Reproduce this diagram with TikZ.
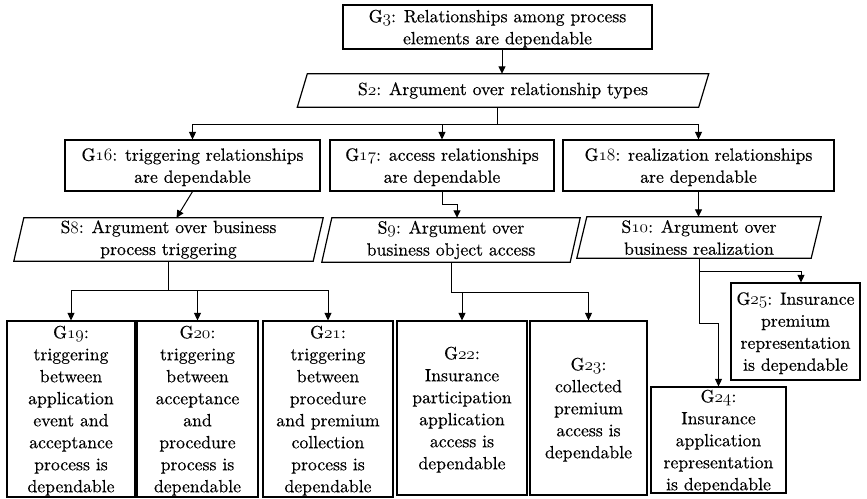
\documentclass[tikz,border=0pt]{standalone}
\usepackage{fontspec}
\usetikzlibrary{arrows.meta}
% text face (10pt optical design, slightly emboldened) and old-style identifiers
\newfontfamily\diagfam{lmroman10-regular.otf}[FakeBold=0.4]
\newcommand\diagfont{\diagfam\fontsize{17.7}{22}\selectfont}
\newcommand\os[1]{{\usefont{OML}{cmm}{m}{it}#1}}
% parallelogram outline around a strategy node
\newcommand\slantbox[1]{\draw[boxline] ([xshift=5pt]#1.north west) -- ([xshift=5pt]#1.north east) -- ([xshift=-5pt]#1.south east) -- ([xshift=-5pt]#1.south west) -- cycle;}
\begin{document}
\begin{tikzpicture}[x=1pt,y=-1pt,
  boxline/.style={line width=1.2pt},
  goal/.style={draw, boxline, inner sep=0pt, align=center, text depth=0pt, font=\diagfont},
  strat/.style={inner sep=0pt, align=center, font=\diagfont},
  link/.style={line width=1pt},
  arr/.style={link, -{Triangle[length=7.5pt,width=7pt]}}]
\useasboundingbox (0,0) rectangle (867,498);

% goals
\node[goal, minimum width=309pt, minimum height=44pt] (G3) at (497.5,27)
  {G\os{3}: Relationships among process\\elements are dependable};
\node[goal, minimum width=255pt, minimum height=51pt] (G16) at (192.5,165.5)
  {G\os{16}: triggering relationships\\are dependable};
\node[goal, minimum width=224pt, minimum height=51pt] (G17) at (442,165.5)
  {G\os{17}: access relationships\\are dependable};
\node[goal, minimum width=271pt, minimum height=51pt] (G18) at (698.5,165.5)
  {G\os{18}: realization relationships\\are dependable};
\node[goal, minimum width=128pt, minimum height=176pt] (G19) at (71,409)
  {G\os{19}:\\triggering\\between\\application\\event and\\acceptance\\process is\\dependable};
\node[goal, minimum width=121pt, minimum height=176pt] (G20) at (197.5,409)
  {G\os{20}:\\triggering\\between\\acceptance\\and\\procedure\\process is\\dependable};
\node[goal, minimum width=130pt, minimum height=176pt] (G21) at (328,409)
  {G\os{21}:\\triggering\\between\\procedure\\and premium\\collection\\process is\\dependable};
\node[goal, minimum width=130pt, minimum height=174pt] (G22) at (462,408)
  {G\os{22}:\\Insurance\\participation\\application\\access is\\dependable};
\node[goal, minimum width=117pt, minimum height=174pt] (G23) at (588.5,408)
  {G\os{23}:\\collected\\premium\\access is\\dependable};
\node[goal, minimum width=135pt, minimum height=106pt] (G24) at (718.5,440)
  {G\os{24}:\\Insurance\\application\\representation\\is dependable};
\node[goal, minimum width=129pt, minimum height=97pt] (G25) at (795.5,331.5)
  {G\os{25}: Insurance\\premium\\representation\\is dependable};

% strategies
\node[strat, minimum width=401pt, minimum height=33pt] (S2) at (503,90.5)
  {S\os{2}: Argument over relationship types};
\node[strat, minimum width=299pt, minimum height=43pt] (S8) at (168.5,239.5)
  {S\os{8}: Argument over business\\process triggering};
\node[strat, minimum width=248pt, minimum height=44pt] (S9) at (451,240)
  {S\os{9}: Argument over\\business object access};
\node[strat, minimum width=234pt, minimum height=41pt] (S10) at (699,237.5)
  {S\os{10}: Argument over\\business realization};
\slantbox{S2}
\slantbox{S8}
\slantbox{S9}
\slantbox{S10}

% G3 to S2
\draw[arr] ([xshift=4.5pt]G3.south) -- ([xshift=4.5pt]G3.south |- S2.north);

% S2 to G16, G17, G18
\coordinate (j2) at (497,124);
\draw[link] (S2.south -| j2) -- (j2);
\draw[arr] (j2) -| (G16.north);
\draw[arr] (j2) -| (G18.north);
\draw[arr] (j2 -| G17.north) -- (G17.north);

% goals to their strategies
\draw[arr] (G16.south) -- ([xshift=8pt]S8.north);
\draw[arr] (G17.south) -- ++(0,13) -| ([xshift=6pt]S9.north);
\draw[arr] (G18.south) -- (G18.south |- S10.north);

% S8 to G19, G20, G21
\path (S8.south) ++(0,29) coordinate (j8);
\draw[link] (S8.south) -- (j8);
\draw[arr] (j8) -| (G19.north);
\draw[arr] (j8) -| (G21.north);
\draw[arr] (j8 -| G20.north) -- (G20.north);

% S9 to G22, G23
\path (S9.south) ++(0,30) coordinate (j9);
\draw[link] (S9.south) -- (j9);
\draw[arr] (j9) -| (G23.north);
\draw[arr] (j9 -| G22.north) -- (G22.north);

% S10 to G25 and G24
\path (S10.south) ++(0,13) coordinate (j10);
\path (S10.south) ++(0,65) coordinate (k10);
\draw[arr] (S10.south) -- (j10) -| ([xshift=5.5pt]G25.north);
\draw[arr] (j10) -- (k10) -| (G24.north);
\end{tikzpicture}
\end{document}
